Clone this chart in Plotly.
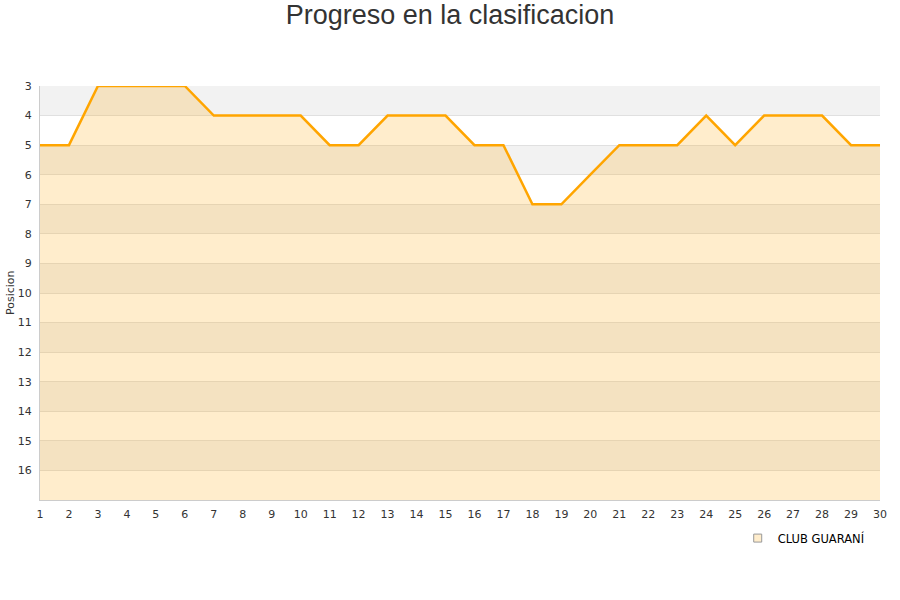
import plotly.graph_objects as go

jornadas = list(range(1, 31))
posiciones = [5, 5, 3, 3, 3, 3, 4, 4, 4, 4, 5, 5, 4, 4, 4, 5, 5, 7, 7, 6,
              5, 5, 5, 4, 5, 4, 4, 4, 5, 5]
equipo = "CLUB GUARANÍ"
y_ticks = list(range(3, 17))
fondo_max = 17

fig = go.Figure()

# baseline for fill
fig.add_trace(go.Scatter(x=jornadas, y=[fondo_max] * len(jornadas), mode="lines",
                         line=dict(width=0, color="rgba(0,0,0,0)"),
                         showlegend=False, hoverinfo="skip"))
fig.add_trace(go.Scatter(x=jornadas, y=posiciones, mode="lines", name=equipo,
                         line=dict(color="#ffa500", width=2.5),
                         fill="tonexty", fillcolor="rgba(255,165,0,0.2)",
                         showlegend=False))
# legend marker
fig.add_trace(go.Scatter(x=[None], y=[None], mode="markers", name=equipo,
                         marker=dict(symbol="square", size=8, color="rgba(255,165,0,0.2)",
                                     line=dict(color="#999999", width=1))))

shapes = []
for v in range(3, fondo_max, 2):
    shapes.append(dict(type="rect", xref="paper", yref="y", x0=0, x1=1, y0=v, y1=v + 1,
                       fillcolor="#f2f2f2", line=dict(width=0), layer="below"))

fig.update_layout(
    width=900, height=600,
    paper_bgcolor="white", plot_bgcolor="white",
    margin=dict(l=40, r=20, t=86, b=100, autoexpand=False),
    title=dict(text="Progreso en la clasificacion", x=0.5, xanchor="center",
               y=0.975, yanchor="middle",
               font=dict(family="Liberation Sans, Arial", size=27, color="#333333")),
    font=dict(family="DejaVu Sans", size=11, color="#333333"),
    shapes=shapes,
    annotations=[dict(text="Posicion", xref="paper", yref="paper", x=-0.0357, y=0.5,
                      xanchor="center", yanchor="middle", textangle=-90, showarrow=False,
                      font=dict(size=11, color="#333333"))],
    showlegend=True,
    legend=dict(x=0.8306, y=-0.092, xanchor="left", yanchor="middle",
                font=dict(family="DejaVu Sans", size=11.5, color="#000000"),
                bgcolor="rgba(0,0,0,0)", itemwidth=30),
    xaxis=dict(range=[1, 30], tickmode="array", tickvals=jornadas, automargin=False,
               showgrid=False, zeroline=False, showline=True, linecolor="#cccccc",
               ticks="outside", ticklen=4, tickcolor="rgba(0,0,0,0)",
               tickfont=dict(size=11, color="#333333")),
    yaxis=dict(range=[fondo_max, 3], tickmode="array", tickvals=y_ticks, automargin=False,
               showgrid=True, gridcolor="#e0e0e0", gridwidth=1, zeroline=False,
               showline=True, linecolor="#cccccc",
               ticks="outside", ticklen=5, tickcolor="rgba(0,0,0,0)",
               tickfont=dict(size=11, color="#333333")),
)

fig.write_html("out.html", config={"displayModeBar": False},
               post_script="document.body.style.margin='0';")
